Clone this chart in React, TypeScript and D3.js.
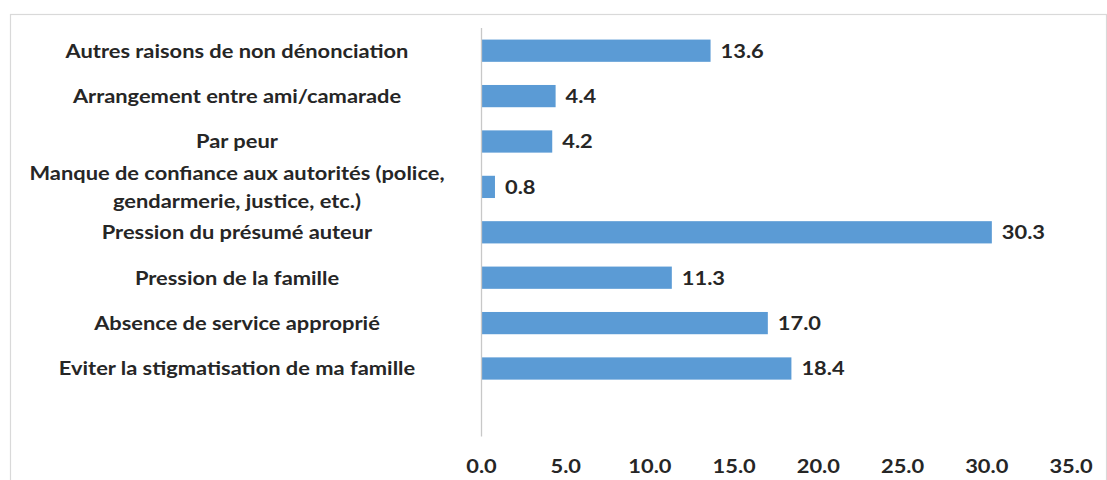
import React from "react";
import * as d3 from "d3";

const categories: string[] = [
  "Autres raisons de non dénonciation",
  "Arrangement entre ami/camarade",
  "Par peur",
  "Manque de confiance aux autorités (police,\ngendarmerie, justice, etc.)",
  "Pression du présumé auteur",
  "Pression de la famille",
  "Absence de service approprié",
  "Eviter la stigmatisation de ma famille",
];
const values: number[] = [13.6, 4.4, 4.2, 0.8, 30.3, 11.3, 17.0, 18.4];
const xTicks: number[] = [0, 5, 10, 15, 20, 25, 30, 35];

const W = 1107;
const H = 480;
const FONT = "Lato, 'Open Sans', sans-serif";
const FS = 19;
const SX = 1.15;

export default function App() {
  const x = d3.scaleLinear().domain([0, 35]).range([481.5, 1071]);
  // 9 slots: the last one is an empty category row as in the source chart
  const slots = [...categories.map((_, i) => String(i)), "empty"];
  const y = d3.scaleBand<string>().domain(slots).range([28, 436.6]).paddingInner(0.51).paddingOuter(0.255);
  const labelX = 237;
  const lineH = 28;
  const fmt = d3.format(".1f");

  return (
    <div style={{ position: "fixed", left: 0, top: 0 }}>
      <svg width={W} height={H} style={{ display: "block", fontFamily: FONT }}>
        <rect x={0} y={0} width={W} height={H} fill="#ffffff" />
        <rect x={10.5} y={14.5} width={1096} height={500} fill="#ffffff" stroke="#d9d9d9" strokeWidth={1.2} />
        {categories.map((c, i) => {
          const key = String(i);
          const yc = (y(key) as number) + y.bandwidth() / 2;
          const lines = c.split("\n");
          const x1 = x(values[i]);
          return (
            <g key={key}>
              <rect x={x(0)} y={y(key)} width={x1 - x(0)} height={y.bandwidth()} fill="#5b9bd5" />
              <g transform={`translate(${x1 + 10},${yc}) scale(${SX},1)`}>
                <text x={0} y={0} dy="0.36em" fontSize={FS} fontWeight={700} fill="#262626">
                  {fmt(values[i])}
                </text>
              </g>
              <g transform={`translate(${labelX},${yc}) scale(${SX},1)`}>
                <text textAnchor="middle" fontSize={FS} fontWeight={700} fill="#262626">
                  {lines.map((ln, j) => (
                    <tspan key={j} x={0} y={(j - (lines.length - 1) / 2) * lineH} dy="0.36em">
                      {ln}
                    </tspan>
                  ))}
                </text>
              </g>
            </g>
          );
        })}
        <line x1={x(0)} x2={x(0)} y1={28} y2={436.6} stroke="#c8c8c8" strokeWidth={1.3} />
        {xTicks.map((t) => (
          <g key={t} transform={`translate(${x(t)},466) scale(${SX},1)`}>
            <text x={0} y={0} dy="0.36em" textAnchor="middle" fontSize={FS} fontWeight={700} fill="#262626">
              {fmt(t)}
            </text>
          </g>
        ))}
      </svg>
    </div>
  );
}
